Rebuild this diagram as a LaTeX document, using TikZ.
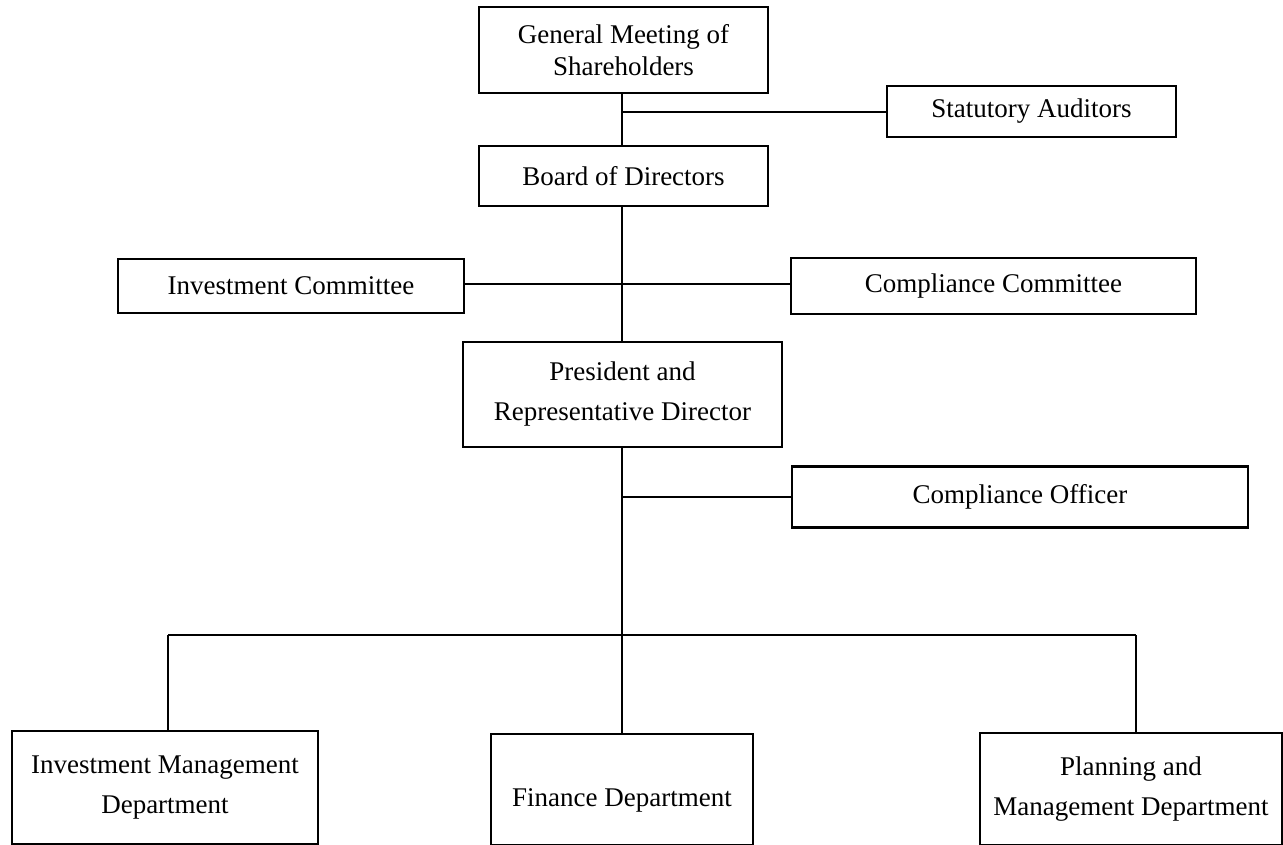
\documentclass[tikz,border=0pt]{standalone}
\usepackage{fontspec}
\setmainfont{Liberation Serif}
\begin{document}
\begin{tikzpicture}[x=1pt,y=-1pt,
  orgbox/.style={draw,line width=2.2pt,inner sep=0pt,align=center,
    font=\fontsize{27}{32}\selectfont},
  wide/.style={font=\fontsize{27}{40}\selectfont},
  conn/.style={line width=2pt}]
\useasboundingbox (0,0) rectangle (1283,845);
\node[orgbox,minimum width=289pt,minimum height=86pt] (GM) at (623.5,50) {General Meeting of\\Shareholders};
\node[orgbox,minimum width=289pt,minimum height=51pt] (SA) at (1031.5,111.5) {Statutory Auditors};
\node[orgbox,minimum width=289pt,minimum height=60pt] (BD) at (623.5,176) {Board of Directors};
\node[orgbox,minimum width=346pt,minimum height=54pt] (IC) at (291,286) {Investment Committee};
\node[orgbox,minimum width=405pt,minimum height=56pt] (CC) at (993.5,286) {Compliance Committee};
\node[orgbox,wide,minimum width=319pt,minimum height=105pt] (PR) at (622.5,394.5) {President and\\Representative Director};
\node[orgbox,minimum width=456pt,minimum height=61pt] (CO) at (1020,497) {Compliance Officer};
\node[orgbox,wide,minimum width=306pt,minimum height=113pt] (IMD) at (165,787.5) {Investment Management\\Department};
\node[orgbox,minimum width=262pt,minimum height=111pt] (FD) at (622,789.5) {\raisebox{-17pt}[0pt][0pt]{Finance Department}};
\node[orgbox,wide,minimum width=302pt,minimum height=112pt] (PMD) at (1131,789) {Planning and\\Management Department};
\coordinate (s1) at (622,112);
\coordinate (j1) at (648,284);
\coordinate (j2) at (622,284);
\coordinate (s3) at (622,497);
\coordinate (bus) at (622,635);
\coordinate (bl) at (168,635);
\coordinate (br) at (1136,635);
\draw[conn] (GM.south -| s1) -- (BD.north -| s1);
\draw[conn] (s1) -- (SA.west |- s1);
\draw[conn] (BD.south -| s1) -- (PR.north -| s1);
\draw[conn] (IC.east |- j1) -- (j1);
\draw[conn] (j2) -- (CC.west |- j2);
\draw[conn] (PR.south -| s1) -- (bus);
\draw[conn] (s3) -- (CO.west |- s3);
\draw[conn] (bl) -- (br);
\draw[conn] (bl) -- (bl |- IMD.north);
\draw[conn] (bus) -- (FD.north);
\draw[conn] (br) -- (br |- PMD.north);
\end{tikzpicture}
\end{document}
